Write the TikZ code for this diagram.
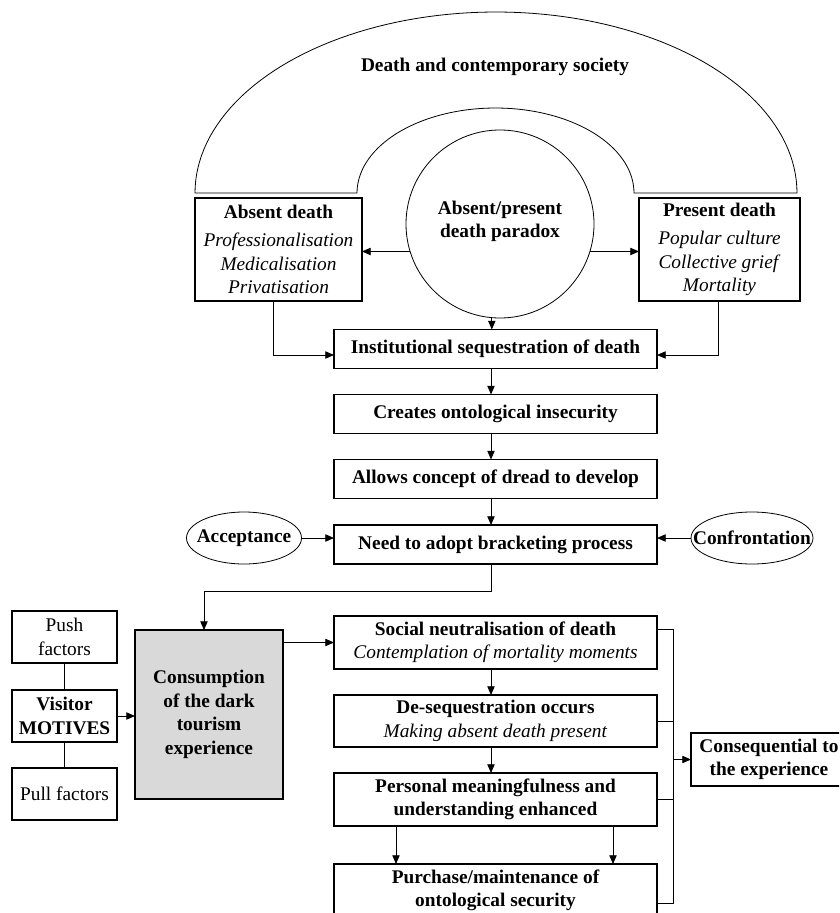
\documentclass[tikz,border=0pt]{standalone}
\usepackage{fontspec}
\setmainfont{Liberation Serif}
\usetikzlibrary{arrows.meta,calc,shapes.geometric}
\definecolor{consgray}{RGB}{217,217,217}
\newcommand\itl[1]{\textmd{\textit{#1}}}
\begin{document}
\begin{tikzpicture}[x=0.75pt,y=-0.75pt,
  txt/.style={font=\fontsize{14.5}{17.6}\selectfont, align=center},
  btxt/.style={font=\fontsize{14.5}{17.6}\selectfont\bfseries, align=center},
  box/.style={btxt, draw, line width=1pt, inner sep=0pt, outer sep=0pt,
    minimum width=242.25pt, minimum height=29.25pt},
  sbox/.style={box, minimum width=78.75pt, minimum height=39pt},
  conn/.style={line width=0.6pt},
  arr/.style={conn, -{Triangle[length=6.5pt,width=5.5pt]}},
  oval/.style={btxt, draw, ellipse, line width=0.6pt, inner sep=0pt, outer sep=0pt,
    minimum height=39pt}]
\useasboundingbox (0,0) rectangle (839,913);
\clip (0,0) rectangle (839,913);

% arch
\draw[conn] plot[domain=180:0, samples=90] ({496+301*cos(\x)},{193-181*sin(\x)})
  -- plot[domain=0:180, samples=70] ({495.5+138.5*cos(\x)},{193-85*sin(\x)}) -- cycle;
\node[btxt] (society) at (495,67) {Death and contemporary society};

% top row
\node[box, minimum width=125.25pt, minimum height=77.25pt] (absent) at (278.5,249.5)
  {Absent death\\[3.5pt] \itl{Professionalisation}\\ \itl{Medicalisation}\\ \itl{Privatisation}};
\node[box, minimum width=120.75pt, minimum height=77.25pt] (present) at (719.5,249.5)
  {Present death\\[3.5pt] \itl{Popular culture}\\ \itl{Collective grief}\\ \itl{Mortality}};
\node[draw, circle, line width=0.6pt, minimum size=141pt, inner sep=0pt, outer sep=0pt] (para) at (500,224) {};
\node[btxt] (paratext) at (500,221.5) {Absent/present\\ death paradox};

% main column
\node[box] (inst) at (495.5,349) {Institutional sequestration of death};
\node[box] (creates) at (495.5,414) {Creates ontological insecurity};
\node[box] (allows) at (495.5,479) {Allows concept of dread to develop};
\node[box] (need) at (495.5,544.5) {Need to adopt bracketing process};
\node[oval, minimum width=86.25pt] (accept) at (244,538) {\makebox[0pt]{Acceptance}};
\node[oval, minimum width=91.5pt] (confront) at (752,538) {\makebox[0pt]{Confrontation}};

% lower part
\node[box, fill=consgray, minimum width=111pt, minimum height=126.75pt] (consum) at (209,714.5)
  {Consumption\\ of the dark\\ tourism\\ experience};
\node[sbox] (push) at (64.5,637) {\mdseries Push\\ \mdseries factors};
\node[sbox] (visitor) at (64.5,716) {Visitor\\ MOTIVES};
\node[sbox] (pull) at (64.5,794) {\mdseries Pull factors};

\node[box, minimum height=39.75pt] (social) at (495.5,642.5)
  {Social neutralisation of death\\ \itl{Contemplation of mortality moments}};
\node[box, minimum height=39pt] (deseq) at (495.5,721)
  {De-sequestration occurs\\ \itl{Making absent death present}};
\node[box, minimum height=39.75pt] (personal) at (495.5,799.5)
  {Personal meaningfulness and\\ understanding enhanced};
\node[box, minimum height=39.75pt] (purchase) at (495.5,890.5)
  {Purchase/maintenance of\\ ontological security};
\node[box, minimum width=117pt, minimum height=39.75pt] (conseq) at (769,759.5)
  {Consequential to\\ the experience};

% helper coordinates
\coordinate (colx) at (491,0);
\coordinate (absx) at (273.5,0);
\coordinate (presx) at (718,0);
\coordinate (insty) at (0,355);
\coordinate (bend) at (204,591);
\coordinate (pl) at (396,0);
\coordinate (pr) at (613,0);
\coordinate (brk) at (673,0);
\coordinate (stubA) at ([yshift=10pt]social.east);
\coordinate (stubD) at ([yshift=-9.4pt]purchase.east);

% connectors
\draw[arr] (para.197) -- (para.197 -| absent.east);
\draw[arr] (para.-17) -- (para.-17 -| present.west);
\draw[arr] (para.265) -- (para.265 |- inst.north);
\draw[arr] (absx |- absent.south) |- (inst.west |- insty);
\draw[arr] (presx |- present.south) |- (inst.east |- insty);
\draw[arr] (colx |- inst.south) -- (colx |- creates.north);
\draw[arr] (colx |- creates.south) -- (colx |- allows.north);
\draw[arr] (colx |- allows.south) -- (colx |- need.north);
\draw[arr] (accept) -- (accept -| need.west);
\draw[arr] (confront) -- (confront -| need.east);
\draw[arr] (colx |- need.south) |- (bend) -- (bend |- consum.north);
\draw[conn] (push) -- (visitor);
\draw[conn] (visitor) -- (pull);
\draw[arr] (visitor.east) -- (visitor.east -| consum.west);
\draw[arr] (consum.east |- social.west) -- (social.west);
\draw[arr] (colx |- social.south) -- (colx |- deseq.north);
\draw[arr] (colx |- deseq.south) -- (colx |- personal.north);
\draw[arr] (pl |- personal.south) -- (pl |- purchase.north);
\draw[arr] (pr |- personal.south) -- (pr |- purchase.north);
\draw[conn] (stubA) -| (brk |- stubD) -- (stubD);
\draw[conn] (deseq.east) -- (brk |- deseq.east);
\draw[conn] (personal.east) -- (brk |- personal.east);
\draw[arr] (brk |- conseq.west) -- (conseq.west);
\end{tikzpicture}
\end{document}
